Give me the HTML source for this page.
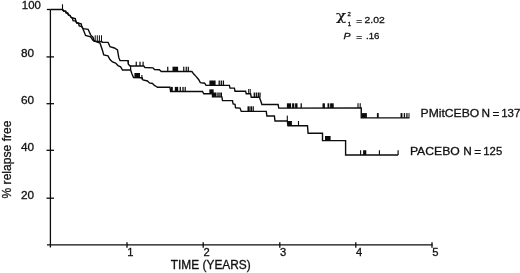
<!DOCTYPE html>
<html><head><meta charset="utf-8"><title>Relapse-free survival</title>
<style>
html,body{margin:0;padding:0;background:#fff;}
body{width:520px;height:273px;overflow:hidden;}
svg{display:block;}
text{font-family:"Liberation Sans",sans-serif;fill:#111;stroke:#111;stroke-width:0.3px;}
</style></head><body>
<svg width="520" height="273" viewBox="0 0 520 273">
<rect width="520" height="273" fill="#fff"/>
<g stroke="#0c0c0c" stroke-width="1.3" fill="none"><line x1="50.4" y1="9.5" x2="50.4" y2="245"/><line x1="46.9" y1="9.5" x2="50.4" y2="9.5"/><line x1="46.5" y1="56.9" x2="54" y2="56.9"/><line x1="46.5" y1="103.7" x2="54" y2="103.7"/><line x1="46.5" y1="150.3" x2="54" y2="150.3"/><line x1="46.5" y1="198.2" x2="54" y2="198.2"/><line x1="47" y1="244.9" x2="432.5" y2="244.9"/><line x1="50.4" y1="245" x2="50.4" y2="247.5"/><line x1="127" y1="242.3" x2="127" y2="247.8"/><line x1="203.2" y1="242.3" x2="203.2" y2="247.8"/><line x1="279.8" y1="242.3" x2="279.8" y2="247.8"/><line x1="355.8" y1="242.3" x2="355.8" y2="247.8"/><line x1="432" y1="242.3" x2="432" y2="247.8"/></g>
<g stroke="#0c0c0c" stroke-width="1.4" fill="none" stroke-linejoin="miter">
<polyline points="50.40,9.50 62.50,9.50 63.80,11.20 65.60,11.20 66.20,12.80 67.70,13.20 68.50,15.00 70.00,15.50 71.20,17.50 72.50,18.00 75.30,18.60 75.80,21.00 76.60,22.80 78.50,23.20 81.20,23.80 81.80,26.60 83.10,28.60 88.10,29.30 90.60,34.90 93.10,37.40 94.20,41.30 101.90,41.60 102.20,42.40 108.10,42.40 110.00,46.75 114.40,48.00 117.50,49.90 118.75,57.40 120.00,60.60 128.10,60.60 128.40,64.20 130.00,66.00 143.75,66.00 145.00,67.50 153.00,67.90 154.40,69.50 159.40,69.75 161.25,71.50 191.90,71.50 193.75,74.10 196.25,76.60 198.75,79.75 200.30,82.70 204.70,83.20 206.00,85.30 229.40,85.40 230.00,88.10 234.40,88.10 235.00,91.25 245.60,91.25 246.25,93.75 250.60,93.75 251.25,97.30 259.40,97.30 260.60,100.60 261.90,104.50 278.10,104.50 278.75,108.10 361.25,108.00 361.25,117.90 409.40,117.90"/>
<polyline points="62.50,9.50 63.80,11.20 65.60,11.20 66.20,12.80 67.70,13.20 68.50,15.00 70.00,15.50 71.20,17.50 72.50,18.00 73.00,20.60 75.80,21.00 76.60,22.80 78.50,23.20 79.20,26.00 81.80,26.60 83.10,29.25 85.60,35.50 90.60,36.75 93.10,40.50 100.00,43.00 102.50,50.50 103.75,55.00 108.00,55.80 110.00,59.50 112.50,61.90 115.60,63.10 118.00,65.60 120.60,66.90 122.50,70.00 130.60,70.00 131.90,73.75 133.50,77.50 142.00,77.70 143.00,80.00 147.50,81.00 149.40,82.90 152.50,83.50 154.40,85.40 156.25,86.50 157.50,87.30 170.00,87.30 170.60,91.50 202.50,91.50 203.75,93.75 212.50,93.75 212.50,96.90 221.90,96.90 222.50,100.60 232.50,100.60 233.10,104.00 235.00,104.40 235.60,107.80 240.00,108.10 241.25,111.40 266.25,111.40 266.90,116.00 274.40,116.00 275.00,121.00 287.25,121.00 288.00,125.70 307.50,125.70 308.10,133.20 322.50,133.20 322.50,140.60 345.60,140.60 345.60,155.00 398.10,155.00"/>
</g>
<g fill="#0c0c0c"><rect x="61.95" y="4.30" width="1.10" height="5.20"/><rect x="94.70" y="35.30" width="1.00" height="6.20"/><rect x="96.80" y="35.30" width="1.00" height="6.20"/><rect x="98.90" y="35.30" width="1.00" height="6.20"/><rect x="101.00" y="35.30" width="1.00" height="6.20"/><rect x="135.65" y="61.70" width="1.20" height="4.30"/><rect x="139.40" y="61.70" width="1.20" height="4.30"/><rect x="142.50" y="61.70" width="1.20" height="4.30"/><rect x="127.70" y="60.60" width="1.20" height="3.40"/><rect x="167.15" y="66.70" width="1.20" height="4.80"/><rect x="172.50" y="66.70" width="5.60" height="4.80"/><rect x="183.15" y="66.70" width="1.20" height="4.80"/><rect x="185.65" y="66.70" width="1.20" height="4.80"/><rect x="187.70" y="66.70" width="1.20" height="4.80"/><rect x="209.40" y="80.50" width="6.20" height="4.80"/><rect x="218.55" y="80.50" width="1.30" height="4.80"/><rect x="220.65" y="80.50" width="1.30" height="4.80"/><rect x="222.75" y="80.50" width="1.30" height="4.80"/><rect x="248.20" y="88.95" width="1.00" height="4.80"/><rect x="249.70" y="88.95" width="1.00" height="4.80"/><rect x="253.65" y="92.50" width="1.30" height="4.80"/><rect x="255.65" y="92.50" width="1.30" height="4.80"/><rect x="257.65" y="92.50" width="1.30" height="4.80"/><rect x="259.35" y="92.50" width="1.30" height="4.80"/><rect x="286.90" y="103.30" width="4.20" height="4.80"/><rect x="292.10" y="103.30" width="2.20" height="4.80"/><rect x="295.10" y="103.30" width="2.40" height="4.80"/><rect x="300.55" y="103.30" width="1.30" height="4.80"/><rect x="322.50" y="103.30" width="2.40" height="4.80"/><rect x="327.50" y="103.30" width="1.80" height="4.80"/><rect x="330.10" y="103.30" width="3.60" height="4.80"/><rect x="357.45" y="103.20" width="1.10" height="4.80"/><rect x="359.65" y="103.20" width="1.10" height="4.80"/><rect x="361.90" y="113.10" width="5.00" height="4.80"/><rect x="376.90" y="113.10" width="1.80" height="4.80"/><rect x="400.55" y="113.10" width="1.90" height="4.80"/><rect x="403.75" y="113.10" width="1.30" height="4.80"/><rect x="406.25" y="113.10" width="1.30" height="4.80"/><rect x="408.50" y="113.10" width="1.00" height="4.80"/><rect x="130.00" y="65.50" width="1.20" height="4.50"/><rect x="134.40" y="73.00" width="5.60" height="4.60"/><rect x="141.35" y="75.00" width="1.10" height="4.50"/><rect x="170.80" y="86.90" width="2.00" height="4.60"/><rect x="174.80" y="86.90" width="3.40" height="4.60"/><rect x="179.65" y="86.90" width="1.30" height="4.60"/><rect x="182.35" y="86.90" width="1.30" height="4.60"/><rect x="184.60" y="86.90" width="1.20" height="4.60"/><rect x="209.35" y="89.35" width="4.30" height="4.40"/><rect x="212.50" y="92.50" width="4.00" height="4.40"/><rect x="217.30" y="92.50" width="1.40" height="4.40"/><rect x="219.30" y="92.50" width="1.40" height="4.40"/><rect x="221.00" y="92.50" width="1.00" height="4.40"/><rect x="247.50" y="106.30" width="2.20" height="5.10"/><rect x="250.40" y="106.30" width="1.60" height="5.10"/><rect x="252.55" y="106.30" width="1.30" height="5.10"/><rect x="286.75" y="115.60" width="1.10" height="5.40"/><rect x="287.30" y="121.00" width="4.60" height="4.70"/><rect x="297.95" y="121.00" width="1.10" height="4.70"/><rect x="325.00" y="136.00" width="5.60" height="4.60"/><rect x="360.05" y="150.25" width="1.10" height="4.75"/><rect x="363.10" y="150.25" width="3.20" height="4.75"/><rect x="378.85" y="150.25" width="1.10" height="4.75"/><rect x="397.50" y="150.25" width="1.20" height="4.75"/></g>
<g><text x="21.8" y="9.3" font-size="11.4">100</text><text x="21" y="57.2" font-size="11.8">80</text><text x="21" y="104.0" font-size="11.8">60</text><text x="21" y="150.6" font-size="11.8">40</text><text x="21" y="198.5" font-size="11.8">20</text><text x="127.3" y="255.9" font-size="11.2">1</text><text x="203.5" y="255.9" font-size="11.2">2</text><text x="280.1" y="255.9" font-size="11.2">3</text><text x="356.1" y="255.9" font-size="11.2">4</text><text x="432.3" y="255.9" font-size="11.2">5</text><text x="170.8" y="269.0" font-size="11.9">TIME (YEARS)</text><text transform="translate(10.8,198.5) rotate(-90)" font-size="12.1">% relapse free</text><text font-size="11.8"><tspan x="420.6" y="117.3" textLength="62" lengthAdjust="spacingAndGlyphs">PMitCEBO </tspan><tspan x="481.5" y="117.3">N</tspan><tspan x="492.6" y="118.2">=</tspan><tspan x="501.2" y="117.3" textLength="19.2" lengthAdjust="spacingAndGlyphs">137</tspan></text><text font-size="11.8"><tspan x="409.9" y="155.3" textLength="53.3" lengthAdjust="spacingAndGlyphs">PACEBO </tspan><tspan x="463.3" y="155.3">N</tspan><tspan x="474.2" y="156.2">=</tspan><tspan x="483.3" y="155.3" textLength="18.9" lengthAdjust="spacingAndGlyphs">125</tspan></text><text transform="translate(336.1,20.3) scale(1.23,1)" font-size="13.7" style="font-family:'DejaVu Serif','Liberation Serif',serif;stroke-width:0.15px">χ</text><text x="347.5" y="16.3" font-size="6">2</text><text x="347.8" y="25.9" font-size="6">1</text><text font-size="9.9"><tspan x="356.2" y="23.9" textLength="5.8" lengthAdjust="spacingAndGlyphs">=</tspan><tspan x="364.6" y="22.9" textLength="20.2" lengthAdjust="spacingAndGlyphs">2.02</tspan></text><text font-size="9.9"><tspan x="343.4" y="38.5" font-style="italic" textLength="7" lengthAdjust="spacingAndGlyphs">P</tspan><tspan x="356.2" y="39.5" textLength="5.8" lengthAdjust="spacingAndGlyphs">=</tspan><tspan x="366" y="38.5" textLength="13.4" lengthAdjust="spacingAndGlyphs">.16</tspan></text></g>
</svg>
</body></html>
